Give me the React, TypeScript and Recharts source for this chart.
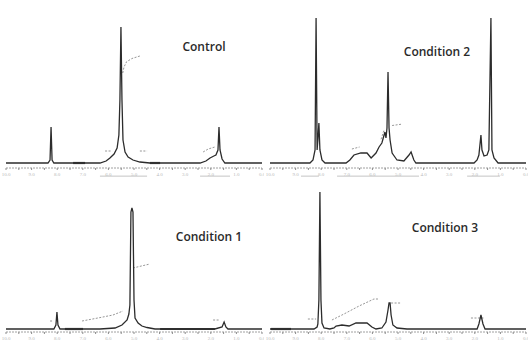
import React from 'react';
import { LineChart, Line, XAxis, YAxis, ReferenceLine } from 'recharts';

type Pt = { ppm: number; i: number | null };
type Range = [number, number];

// Chemical shift axis (ppm, high field on the right)
const SHIFT_TICKS = [10, 9.5, 9, 8.5, 8, 7.5, 7, 6.5, 6, 5.5, 5, 4.5, 4, 3.5, 3, 2.5, 2, 1.5, 1, 0.5, 0];

// ---- Control ----
const controlSpectrum: Pt[] = [
  { ppm: 10.0, i: 0 }, { ppm: 8.36, i: 0 }, { ppm: 8.28, i: 2.4 }, { ppm: 8.24, i: 28.8 },
  { ppm: 8.2, i: 2.4 }, { ppm: 8.13, i: 0 },
  { ppm: 6.33, i: 0 }, { ppm: 6.09, i: 1.6 }, { ppm: 5.94, i: 4 }, { ppm: 5.78, i: 7.2 },
  { ppm: 5.66, i: 12 }, { ppm: 5.59, i: 22.4 }, { ppm: 5.55, i: 50.4 }, { ppm: 5.51, i: 108.8 },
  { ppm: 5.47, i: 50.4 }, { ppm: 5.43, i: 18.4 }, { ppm: 5.35, i: 8.8 }, { ppm: 5.23, i: 4.8 },
  { ppm: 5.04, i: 2.4 }, { ppm: 4.77, i: 0.8 }, { ppm: 4.38, i: 0 },
  { ppm: 2.42, i: 0 }, { ppm: 2.19, i: 1.6 }, { ppm: 2.03, i: 4 }, { ppm: 1.88, i: 5.6 },
  { ppm: 1.8, i: 6.4 }, { ppm: 1.72, i: 10.4 }, { ppm: 1.68, i: 28.8 }, { ppm: 1.64, i: 10.4 },
  { ppm: 1.56, i: 3.2 }, { ppm: 1.45, i: 0 }, { ppm: 0, i: 0 },
];
const controlNotes: Pt[] = [
  { ppm: 5.44, i: 72 }, { ppm: 5.39, i: 76.8 }, { ppm: 5.29, i: 81 }, { ppm: 5.08, i: 83.6 }, { ppm: 4.77, i: 85.6 },
  { ppm: 4.7, i: null },
  { ppm: 6.13, i: 9.6 }, { ppm: 5.86, i: 9.6 },
  { ppm: 5.8, i: null },
  { ppm: 4.77, i: 9.6 }, { ppm: 4.49, i: 9.6 },
  { ppm: 4.4, i: null },
  { ppm: 2.3, i: 8.8 }, { ppm: 2.1, i: 11.2 }, { ppm: 1.84, i: 12.8 },
];
const controlThick: Range[] = [[7.38, 6.91], [4.38, 3.98]];
const controlBrackets: Range[] = [[6.33, 4.49], [2.42, 1.25]];

// ---- Condition 2 ----
const cond2Spectrum: Pt[] = [
  { ppm: 10.0, i: 0 }, { ppm: 8.44, i: 0 }, { ppm: 8.32, i: 2.4 }, { ppm: 8.24, i: 10.4 },
  { ppm: 8.2, i: 116 }, { ppm: 8.16, i: 10.4 }, { ppm: 8.13, i: 18.4 }, { ppm: 8.09, i: 32 },
  { ppm: 8.05, i: 10.4 }, { ppm: 7.97, i: 2.4 }, { ppm: 7.85, i: 0 },
  { ppm: 7.03, i: 0 }, { ppm: 6.88, i: 2.4 }, { ppm: 6.72, i: 6.4 }, { ppm: 6.45, i: 8 },
  { ppm: 6.21, i: 8 }, { ppm: 6.05, i: 4 }, { ppm: 5.86, i: 8 }, { ppm: 5.74, i: 12.8 },
  { ppm: 5.63, i: 16 }, { ppm: 5.51, i: 24.8 }, { ppm: 5.47, i: 20 }, { ppm: 5.43, i: 28 },
  { ppm: 5.39, i: 72.8 }, { ppm: 5.35, i: 28 }, { ppm: 5.31, i: 18.4 }, { ppm: 5.23, i: 8 },
  { ppm: 5.04, i: 2.4 }, { ppm: 4.77, i: 1.6 }, { ppm: 4.57, i: 6.4 }, { ppm: 4.49, i: 8.8 },
  { ppm: 4.38, i: 2.4 }, { ppm: 4.3, i: 0 },
  { ppm: 2.03, i: 0 }, { ppm: 1.91, i: 2.4 }, { ppm: 1.84, i: 6.4 }, { ppm: 1.76, i: 22.4 },
  { ppm: 1.72, i: 10.4 }, { ppm: 1.64, i: 5.6 }, { ppm: 1.52, i: 6.4 }, { ppm: 1.45, i: 10.4 },
  { ppm: 1.37, i: 116 }, { ppm: 1.33, i: 10.4 }, { ppm: 1.25, i: 4 }, { ppm: 1.09, i: 0 },
  { ppm: 0, i: 0 },
];
const cond2Notes: Pt[] = [
  { ppm: 5.23, i: 30 }, { ppm: 4.88, i: 31 },
  { ppm: 4.8, i: null },
  { ppm: 6.8, i: 11.2 }, { ppm: 6.5, i: 12.8 },
  { ppm: 6.4, i: null },
  { ppm: 5.66, i: 19 }, { ppm: 5.55, i: 26 },
];
const cond2Thick: Range[] = [];
const cond2Brackets: Range[] = [[8.79, 8.09], [7.38, 4.18], [2.3, 1.02]];

// ---- Condition 1 ----
const cond1Spectrum: Pt[] = [
  { ppm: 10.0, i: 0 }, { ppm: 8.13, i: 0 }, { ppm: 8.05, i: 3.2 }, { ppm: 8.01, i: 13.6 },
  { ppm: 7.97, i: 3.2 }, { ppm: 7.89, i: 0 },
  { ppm: 6.33, i: 0 }, { ppm: 5.74, i: 0.8 }, { ppm: 5.47, i: 3.2 }, { ppm: 5.27, i: 7.2 },
  { ppm: 5.2, i: 12 }, { ppm: 5.16, i: 19.2 }, { ppm: 5.12, i: 93.6 }, { ppm: 5.08, i: 96.8 },
  { ppm: 5.04, i: 93.6 }, { ppm: 5.0, i: 23.2 }, { ppm: 4.96, i: 8.8 }, { ppm: 4.84, i: 4.8 },
  { ppm: 4.69, i: 2.4 }, { ppm: 4.49, i: 1.2 }, { ppm: 4.18, i: 0 },
  { ppm: 1.84, i: 0 }, { ppm: 1.56, i: 1.6 }, { ppm: 1.48, i: 5.6 }, { ppm: 1.41, i: 1.6 },
  { ppm: 1.33, i: 0 }, { ppm: 0, i: 0 },
];
const cond1Notes: Pt[] = [
  { ppm: 7.03, i: 6.4 }, { ppm: 6.41, i: 8.8 }, { ppm: 5.82, i: 11.2 }, { ppm: 5.43, i: 14.4 },
  { ppm: 5.3, i: null },
  { ppm: 5.04, i: 48.8 }, { ppm: 4.38, i: 52 },
  { ppm: 4.3, i: null },
  { ppm: 8.28, i: 6.4 }, { ppm: 8.16, i: 6.4 },
  { ppm: 8.1, i: null },
  { ppm: 1.91, i: 7.2 }, { ppm: 1.64, i: 7.2 },
];
const cond1Thick: Range[] = [[7.7, 6.99], [3.98, 1.84]];
const cond1Brackets: Range[] = [];

// ---- Condition 3 ----
const cond3Spectrum: Pt[] = [
  { ppm: 10.0, i: 0 }, { ppm: 8.28, i: 0 }, { ppm: 8.16, i: 1.6 }, { ppm: 8.13, i: 4 },
  { ppm: 8.09, i: 23.2 }, { ppm: 8.05, i: 109.6 }, { ppm: 8.01, i: 23.2 }, { ppm: 7.97, i: 4.8 },
  { ppm: 7.89, i: 0.8 }, { ppm: 7.66, i: 0 }, { ppm: 7.5, i: 0.8 }, { ppm: 7.42, i: 2.4 },
  { ppm: 7.19, i: 3.2 }, { ppm: 6.91, i: 2.4 }, { ppm: 6.64, i: 4.8 }, { ppm: 6.21, i: 4.8 },
  { ppm: 6.02, i: 1.6 }, { ppm: 5.86, i: 0 }, { ppm: 5.63, i: 0.8 }, { ppm: 5.47, i: 5.6 },
  { ppm: 5.39, i: 15.2 }, { ppm: 5.35, i: 20.8 }, { ppm: 5.31, i: 20.8 }, { ppm: 5.27, i: 11.2 },
  { ppm: 5.2, i: 3.2 }, { ppm: 5.04, i: 0.8 }, { ppm: 4.65, i: 0 },
  { ppm: 1.91, i: 0 }, { ppm: 1.84, i: 4 }, { ppm: 1.76, i: 11.2 }, { ppm: 1.68, i: 4 },
  { ppm: 1.6, i: 0 }, { ppm: 0, i: 0 },
];
const cond3Notes: Pt[] = [
  { ppm: 7.58, i: 7.2 }, { ppm: 7.11, i: 12 }, { ppm: 6.52, i: 18.4 }, { ppm: 5.94, i: 24 }, { ppm: 5.74, i: 24 },
  { ppm: 5.6, i: null },
  { ppm: 5.27, i: 20.8 }, { ppm: 4.88, i: 20.8 },
  { ppm: 4.8, i: null },
  { ppm: 8.52, i: 8 }, { ppm: 8.2, i: 8 },
  { ppm: 8.1, i: null },
  { ppm: 2.15, i: 8.8 }, { ppm: 1.64, i: 8.8 },
];
const cond3Thick: Range[] = [[9.96, 9.18]];
const cond3Brackets: Range[] = [];

type PanelCfg = {
  title: string;
  spectrum: Pt[];
  notes: Pt[];
  thick: Range[];
  brackets: Range[];
  left: number;
  top: number;
  height: number;
  marginTop: number;
  axisHeight: number;
  yDomain: [number, number];
  titleX: number;
  titleY: number;
};

const panels: PanelCfg[] = [
  {
    title: 'Control', spectrum: controlSpectrum, notes: controlNotes, thick: controlThick, brackets: controlBrackets,
    left: 0, top: 0, height: 190, marginTop: 5, axisHeight: 22, yDomain: [-4, 126.4], titleX: 204, titleY: 47,
  },
  {
    title: 'Condition 2', spectrum: cond2Spectrum, notes: cond2Notes, thick: cond2Thick, brackets: cond2Brackets,
    left: 264, top: 0, height: 190, marginTop: 5, axisHeight: 22, yDomain: [-4, 126.4], titleX: 437, titleY: 52,
  },
  {
    title: 'Condition 1', spectrum: cond1Spectrum, notes: cond1Notes, thick: cond1Thick, brackets: cond1Brackets,
    left: 0, top: 175, height: 174, marginTop: 0, axisHeight: 17, yDomain: [-2.4, 123.2], titleX: 209, titleY: 237,
  },
  {
    title: 'Condition 3', spectrum: cond3Spectrum, notes: cond3Notes, thick: cond3Thick, brackets: cond3Brackets,
    left: 264, top: 175, height: 174, marginTop: 0, axisHeight: 17, yDomain: [-2.4, 123.2], titleX: 445, titleY: 228,
  },
];

const shiftLabel = (v: number) => (Number.isInteger(v) ? v.toFixed(1) : '');

function SpectrumPanel({ cfg }: { cfg: PanelCfg }) {
  const bracketLevel = cfg.yDomain[0] - 6.5;
  return (
    <div style={{ position: 'absolute', left: cfg.left, top: cfg.top }}>
      <LineChart
        width={264}
        height={cfg.height}
        margin={{ top: cfg.marginTop, right: 2, bottom: 0, left: 6 }}
      >
        <XAxis
          type="number"
          dataKey="ppm"
          domain={[0, 10]}
          reversed
          allowDataOverflow
          ticks={SHIFT_TICKS}
          interval={0}
          height={cfg.axisHeight}
          axisLine={{ stroke: '#a0a0a0', strokeDasharray: '2 1' }}
          tickLine={{ stroke: '#8c8c8c' }}
          tickSize={2}
          tick={{ fontSize: 5, fill: '#b8b8b8' }}
          tickFormatter={shiftLabel}
        />
        <YAxis type="number" hide domain={cfg.yDomain} allowDataOverflow />
        {cfg.thick.map(([a, b], k) => (
          <ReferenceLine
            key={`t${k}`}
            segment={[{ x: a, y: 0 }, { x: b, y: 0 }]}
            stroke="#3a3a3a"
            strokeWidth={2.2}
            ifOverflow="visible"
          />
        ))}
        {cfg.brackets.map(([a, b], k) => (
          <ReferenceLine
            key={`b${k}`}
            segment={[{ x: a, y: bracketLevel }, { x: b, y: bracketLevel }]}
            stroke="#b5b5b5"
            strokeWidth={0.8}
            ifOverflow="visible"
          />
        ))}
        <Line
          data={cfg.notes}
          dataKey="i"
          type="linear"
          dot={false}
          stroke="#8a8a8a"
          strokeWidth={0.9}
          strokeDasharray="2 1.5"
          connectNulls={false}
          isAnimationActive={false}
        />
        <Line
          data={cfg.spectrum}
          dataKey="i"
          type="linear"
          dot={false}
          stroke="#2c2c2c"
          strokeWidth={1.3}
          isAnimationActive={false}
        />
      </LineChart>
    </div>
  );
}

export default function App() {
  return (
    <div
      style={{
        position: 'absolute',
        left: 0,
        top: 0,
        width: 528,
        height: 349,
        background: '#ffffff',
        overflow: 'hidden',
      }}
    >
      {panels.map((p) => (
        <SpectrumPanel key={p.title} cfg={p} />
      ))}
      {panels.map((p) => (
        <div
          key={`label-${p.title}`}
          style={{
            position: 'absolute',
            left: p.titleX,
            top: p.titleY,
            transform: 'translate(-50%, -50%)',
            fontFamily: '"Open Sans", sans-serif',
            fontWeight: 600,
            fontSize: 12,
            color: '#2a2a2a',
            whiteSpace: 'nowrap',
            lineHeight: 1,
          }}
        >
          {p.title}
        </div>
      ))}
    </div>
  );
}
